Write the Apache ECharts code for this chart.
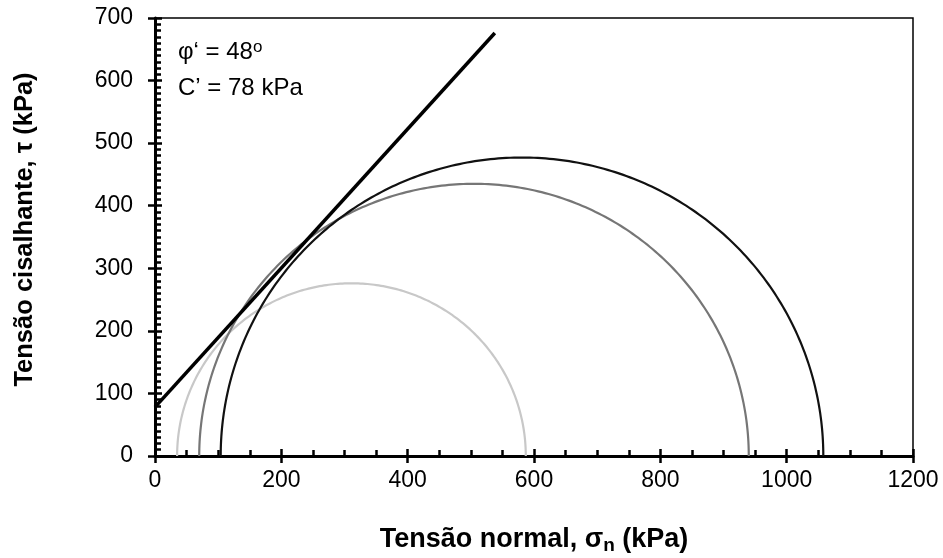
<!DOCTYPE html>
<html>
<head>
<meta charset="utf-8">
<script src="https://cdn.jsdelivr.net/npm/echarts@6/dist/echarts.min.js"></script>
<style>html,body{margin:0;padding:0;background:#fff;}#c{width:943px;height:558px;}</style>
</head>
<body>
<div id="c"></div>
<script>
// Mohr circles: minor and major principal stresses (kPa)
const circleSigma3 = [35, 70, 104];
const circleSigma1 = [587, 940, 1058];
const circleColors = ['#c8c8c8', '#767676', '#111111'];
// Failure envelope (kPa)
const envelopeSigma = [0, 538];
const envelopeTau = [78, 676];
// Axis ticks
const xTicks = [0, 200, 400, 600, 800, 1000, 1200];
const yTicks = [0, 100, 200, 300, 400, 500, 600, 700];

const FONT = '"Liberation Sans", Arial, sans-serif';

const chart = echarts.init(document.getElementById('c'), null, {renderer: 'canvas'});

const baseX = {
  type: 'value', min: xTicks[0], max: xTicks[xTicks.length - 1], interval: 200,
  position: 'bottom', splitLine: {show: false}
};
const baseY = {
  type: 'value', min: yTicks[0], max: yTicks[yTicks.length - 1], interval: 100,
  position: 'left', splitLine: {show: false}
};

const option = {
  animation: false,
  backgroundColor: '#fff',
  grid: {left: 155, right: 30, top: 18, bottom: 102, show: true, borderColor: '#000', borderWidth: 1.5, containLabel: false},
  xAxis: [
    Object.assign({}, baseX, {
      axisLine: {show: true, lineStyle: {color: '#000', width: 3}},
      axisTick: {show: true, inside: true, length: 7, lineStyle: {color: '#000', width: 2.5}},
      minorTick: {show: true, splitNumber: 4, length: 6, lineStyle: {color: '#000', width: 2.5}},
      axisLabel: {fontFamily: FONT, fontSize: 23, color: '#000', margin: 13, formatter: v => String(v)}
    }),
    Object.assign({}, baseX, {
      axisLine: {show: false},
      axisTick: {show: true, inside: false, length: 7, lineStyle: {color: '#000', width: 2.5}},
      axisLabel: {show: false}
    })
  ],
  yAxis: [
    Object.assign({}, baseY, {
      axisLine: {show: true, lineStyle: {color: '#000', width: 3}},
      axisTick: {show: true, inside: true, length: 7, lineStyle: {color: '#000', width: 2.5}},
      minorTick: {show: true, splitNumber: 10, length: 6, lineStyle: {color: '#000', width: 2.5}},
      axisLabel: {fontFamily: FONT, fontSize: 23, color: '#000', margin: 22, formatter: v => String(v)}
    }),
    Object.assign({}, baseY, {
      axisLine: {show: false},
      axisTick: {show: true, inside: false, length: 7, lineStyle: {color: '#000', width: 2.5}},
      axisLabel: {show: false}
    })
  ],
  series: [
    {
      type: 'custom',
      xAxisIndex: 0, yAxisIndex: 0,
      clip: true,
      data: circleSigma3.map((s3, i) => [s3, circleSigma1[i]]),
      encode: {x: [0, 1]},
      renderItem: function (params, api) {
        const s3 = api.value(0), s1 = api.value(1);
        const c = (s1 + s3) / 2, r = (s1 - s3) / 2;
        const pts = [];
        for (let i = 0; i <= 240; i++) {
          const t = Math.PI * i / 240;
          pts.push(api.coord([c - r * Math.cos(t), r * Math.sin(t)]));
        }
        return {
          type: 'polyline',
          shape: {points: pts},
          style: {stroke: circleColors[params.dataIndex], lineWidth: 2.2, fill: null}
        };
      }
    },
    {
      type: 'line',
      xAxisIndex: 0, yAxisIndex: 0,
      data: envelopeSigma.map((s, i) => [s, envelopeTau[i]]),
      symbol: 'none',
      lineStyle: {color: '#000', width: 3.5},
      z: 5
    }
  ],
  graphic: [
    {type: 'text', x: 178, y: 52.5, style: {text: 'φ‘ = 48{sup|o}', fontFamily: FONT, fontSize: 24, fill: '#000', verticalAlign: 'middle',
      rich: {sup: {fontFamily: FONT, fontSize: 17, fill: '#000', padding: [0, 0, 11, 0]}}}},
    {type: 'text', x: 178, y: 88.5, style: {text: 'C’ = 78 kPa', fontFamily: FONT, fontSize: 24, fill: '#000', verticalAlign: 'middle'}},
    {type: 'text', x: 534, y: 540, style: {text: 'Tensão normal, σ{sub|n} (kPa)', fontFamily: FONT, fontSize: 27, fontWeight: 'bold', fill: '#000',
      align: 'center', verticalAlign: 'middle',
      rich: {sub: {fontFamily: FONT, fontSize: 19, fontWeight: 'bold', fill: '#000', padding: [11, 0, 0, 0]}}}},
    {type: 'text', x: 25, y: 229.5, rotation: Math.PI / 2, style: {text: 'Tensão cisalhante, τ (kPa)', fontFamily: FONT, fontSize: 25.5, fontWeight: 'bold', fill: '#000',
      align: 'center', verticalAlign: 'middle'}}
  ]
};
chart.setOption(option);
</script>
</body>
</html>
